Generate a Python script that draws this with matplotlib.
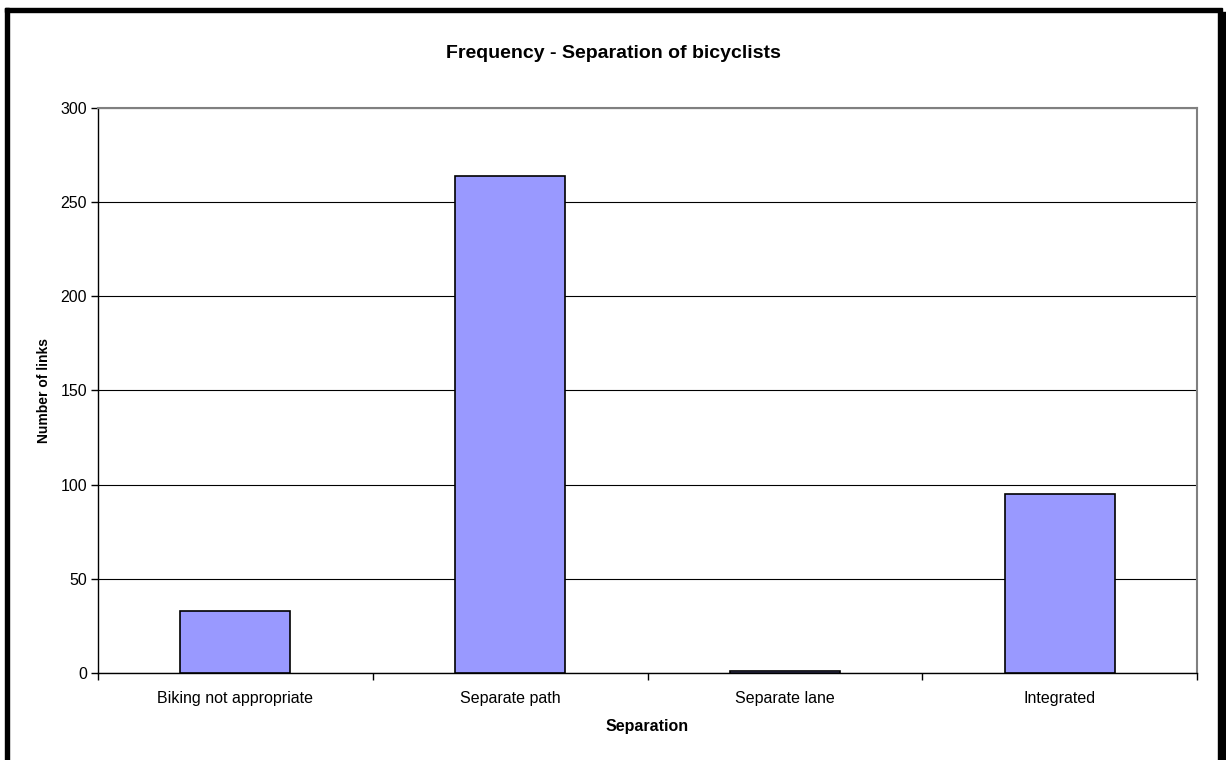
import numpy as np
import matplotlib.pyplot as plt
from matplotlib.patches import Rectangle
from matplotlib.ticker import FixedLocator, NullFormatter

# --- data ---------------------------------------------------------------------
categories = ['Biking not appropriate', 'Separate path', 'Separate lane', 'Integrated']
counts = [33, 264, 1, 95]
y_ticks = [0, 50, 100, 150, 200, 250, 300]

plt.rcParams['font.family'] = ['Liberation Sans', 'DejaVu Sans']

W, H = 1226, 760
fig = plt.figure(figsize=(W / 100, H / 100), dpi=100)

# plot area in pixel terms (Excel-style layout)
left, right, top, bottom = 98, 1197, 108, 673
ax = fig.add_axes([left / W, (H - bottom) / H, (right - left) / W, (bottom - top) / H])

x = np.arange(len(categories))
ax.bar(x, counts, width=0.4, color='#9999FF', edgecolor='black', linewidth=1.2, zorder=3)

ax.set_xlim(-0.5, len(categories) - 0.5)
ax.set_ylim(0, 300)
ax.set_yticks(y_ticks)
ax.yaxis.grid(True, color='black', linewidth=0.8, zorder=0)

# category labels centred, tick marks on the boundaries
ax.set_xticks(x)
ax.set_xticklabels(categories, fontsize=11.5)
ax.tick_params(axis='x', which='major', length=0, pad=13)
ax.xaxis.set_minor_locator(FixedLocator(np.arange(len(categories) + 1) - 0.5))
ax.xaxis.set_minor_formatter(NullFormatter())
ax.tick_params(axis='x', which='minor', length=5, width=1, color='black')
ax.tick_params(axis='y', length=5, width=1, labelsize=11.5, pad=3)

for side in ['left', 'bottom']:
    ax.spines[side].set_color('black')
    ax.spines[side].set_linewidth(1)
for side in ['top', 'right']:
    ax.spines[side].set_color('#808080')
    ax.spines[side].set_linewidth(1.5)

ax.set_xlabel('Separation', fontsize=11.5, fontweight='bold', labelpad=9)
ax.set_ylabel('Number of links', fontsize=10, fontweight='bold', labelpad=7)
fig.text(613 / W, 1 - 53 / H, 'Frequency - Separation of bicyclists',
         ha='center', va='center', fontsize=14, fontweight='bold')

# outer chart frame with shadow on the right
fig.patches.append(Rectangle((5 / W, 0), 4 / W, (H - 8) / H, transform=fig.transFigure,
                             color='black', zorder=10))
fig.patches.append(Rectangle((5 / W, (H - 12) / H), (1222 - 5) / W, 4 / H,
                             transform=fig.transFigure, color='black', zorder=10))
fig.patches.append(Rectangle((1218 / W, 0), 8 / W, (H - 12) / H, transform=fig.transFigure,
                             color='black', zorder=10))

fig.savefig('out.png', dpi=100)
